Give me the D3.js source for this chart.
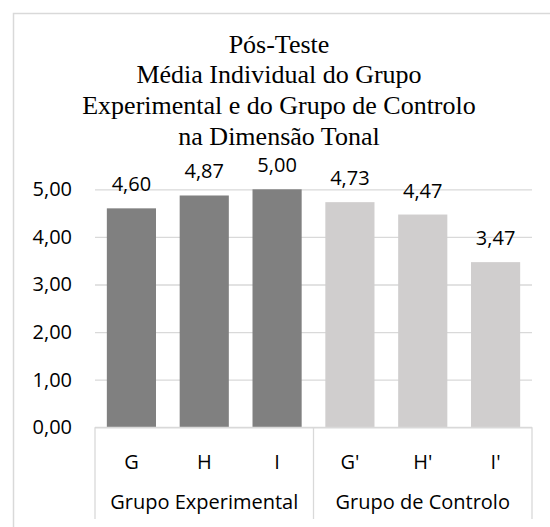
<!DOCTYPE html>
<html>
<head>
<meta charset="utf-8">
<script src="https://cdn.jsdelivr.net/npm/d3@7"></script>
<style>
  html, body { margin: 0; padding: 0; background: #fff; }
  svg { display: block; }
</style>
</head>
<body>
<svg id="chart" width="550" height="527"></svg>
<script>
const titleLines = ["Pós-Teste", "Média Individual do Grupo", "Experimental e do Grupo de Controlo", "na Dimensão Tonal"];
const categories = ["G", "H", "I", "G'", "H'", "I'"];
const groups = ["Grupo Experimental", "Grupo de Controlo"];
const groupOf = ["Grupo Experimental", "Grupo Experimental", "Grupo Experimental", "Grupo de Controlo", "Grupo de Controlo", "Grupo de Controlo"];
const values = [4.60, 4.87, 5.00, 4.73, 4.47, 3.47];
const yTicks = [0, 1, 2, 3, 4, 5];
const groupColors = {"Grupo Experimental": "#808080", "Grupo de Controlo": "#d0cece"};

const svg = d3.select("#chart");
const sans = "'Open Sans', 'Liberation Sans', sans-serif";
const textCol = "#000";
const fmt = v => d3.format(".2f")(v).replace(".", ",");

// chart area border
svg.append("rect")
  .attr("x", 13.5).attr("y", 13.5)
  .attr("width", 560).attr("height", 540)
  .attr("fill", "#fff").attr("stroke", "#d9d9d9").attr("stroke-width", 1.5);

const pLeft = 95, pRight = 532, pTop = 189.3, pBottom = 427.3;

const x = d3.scaleBand().domain(categories).range([pLeft, pRight]).paddingInner(0.325).paddingOuter(0.1625);
const y = d3.scaleLinear().domain([0, 5]).range([pBottom, pTop]);

// title
const title = svg.append("text")
  .attr("text-anchor", "middle")
  .attr("font-family", "'Liberation Serif', 'Times New Roman', serif")
  .attr("font-size", 26).attr("fill", textCol);
titleLines.forEach((t, i) => {
  title.append("tspan").attr("x", 279).attr("y", 52.7 + i * 30.7).text(t);
});

// gridlines + y tick labels
const yAxis = d3.axisLeft(y).tickValues(yTicks).tickSize(-(pRight - pLeft)).tickFormat(fmt).tickPadding(23);
const gy = svg.append("g").attr("transform", `translate(${pLeft},0)`).call(yAxis);
gy.select(".domain").remove();
gy.selectAll(".tick line").attr("stroke", "#d9d9d9").attr("stroke-width", 1.3);
gy.selectAll(".tick text")
  .attr("font-family", sans).attr("font-size", 20).attr("fill", textCol);

// bars
svg.append("g").selectAll("rect").data(values).join("rect")
  .attr("x", (d, i) => x(categories[i]))
  .attr("y", d => y(d))
  .attr("width", x.bandwidth())
  .attr("height", d => y(0) - y(d))
  .attr("fill", (d, i) => groupColors[groupOf[i]]);

// data labels
svg.append("g").selectAll("text").data(values).join("text")
  .attr("x", (d, i) => x(categories[i]) + x.bandwidth() / 2)
  .attr("y", d => y(d) - 17)
  .attr("text-anchor", "middle")
  .attr("font-family", sans).attr("font-size", 20).attr("fill", textCol)
  .text(d => fmt(d));

// category axis (multi-level)
const axisCol = "#d9d9d9";
svg.append("line").attr("x1", pLeft).attr("x2", pRight).attr("y1", pBottom).attr("y2", pBottom)
  .attr("stroke", axisCol).attr("stroke-width", 1.3);
const bx = [pLeft, (x(categories[2]) + x.bandwidth() + x(categories[3])) / 2, pRight];
bx.forEach(v => {
  svg.append("line").attr("x1", v).attr("x2", v).attr("y1", pBottom).attr("y2", 519)
    .attr("stroke", axisCol).attr("stroke-width", 1.3);
});

svg.append("g").selectAll("text").data(categories).join("text")
  .attr("x", d => x(d) + x.bandwidth() / 2)
  .attr("y", 469)
  .attr("text-anchor", "middle")
  .attr("font-family", sans).attr("font-size", 20).attr("fill", textCol)
  .text(d => d);

svg.append("g").selectAll("text").data(groups).join("text")
  .attr("x", (d, i) => (bx[i] + bx[i + 1]) / 2)
  .attr("y", 509)
  .attr("text-anchor", "middle")
  .attr("font-family", sans).attr("font-size", 20).attr("fill", textCol)
  .text(d => d);
</script>
</body>
</html>
